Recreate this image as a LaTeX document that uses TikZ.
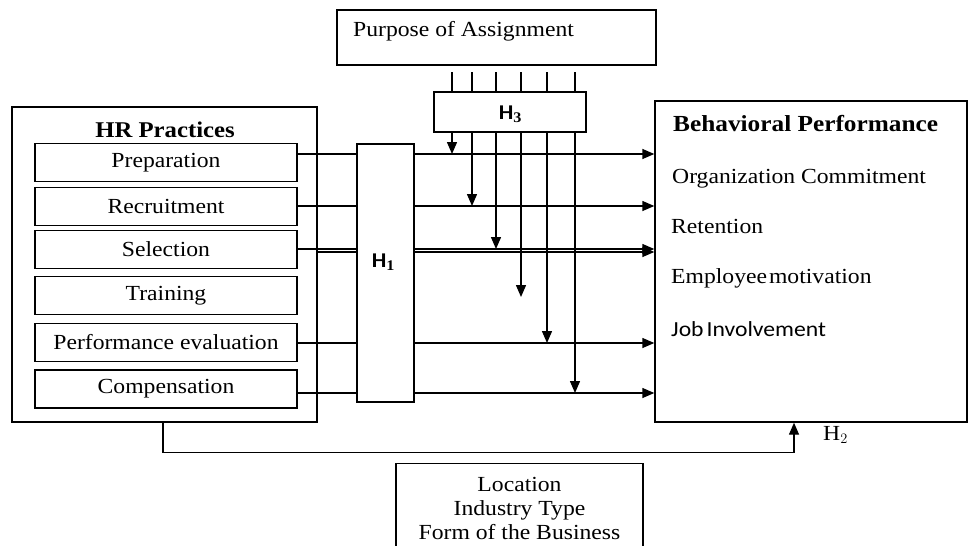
\documentclass[tikz,border=0pt]{standalone}
\usepackage{fontspec}
\setmainfont{Liberation Serif}[FakeStretch=1.1]
\newfontfamily\calibri{Carlito}[FakeStretch=1.1]
\usetikzlibrary{arrows.meta,positioning,calc}

\tikzset{
  box/.style={draw, line width=1.4pt, inner sep=0pt},
  practice/.style={box, minimum width=262pt, minimum height=38pt},
  link/.style={line width=1.4pt},
  arr/.style={-{Triangle[length=12pt,width=10pt]}},
  txt/.style={inner sep=0pt, anchor=base west},
}

\begin{document}
\begin{tikzpicture}[x=1pt, y=-1pt, font=\fontsize{21.5}{24}\selectfont]
  \useasboundingbox (0,0) rectangle (969,546);
  \clip (0,0) rectangle (969,546);

  % top box and moderator
  \node[box, minimum width=319pt, minimum height=55pt] (purpose) at (496.5,37.5) {};
  \node[txt] (purposetxt) at (353,36) {Purpose of Assignment};
  \node[box, minimum width=152pt, minimum height=40pt] (h3) at (510,112) {};
  \node[inner sep=0pt] (h3lab) at (510,114) {\calibri\fontsize{21}{24}\selectfont\bfseries H$_{\mathbf 3}$};

  % HR practices
  \node[box, minimum width=305pt, minimum height=315pt] (hr) at (164.5,264.5) {};
  \node[inner sep=0pt, anchor=base] (hrtitle) at (165,137) {\fontsize{22.5}{26}\selectfont\bfseries HR Practices};
  \node[practice] (prep) at (166,162.5) {Preparation};
  \node[practice] (recr) at (166,206.5) {Recruitment};
  \node[practice] (sel)  at (166,249.5) {Selection};
  \node[practice] (trai) at (166,295.5) {Training};
  \node[practice] (perf) at (166,342.5) {Performance evaluation};
  \node[practice] (comp) at (166,389)   {Compensation};

  % mediator
  \node[box, minimum width=57pt, minimum height=258pt] (h1) at (385.5,273) {};
  \node[inner sep=0pt] (h1lab) at (383,262) {\calibri\fontsize{21}{24}\selectfont\bfseries H$_{\mathbf 1}$};

  % behavioral performance
  \node[box, minimum width=312pt, minimum height=321pt] (beh) at (811,261.5) {};
  \node[txt] (behtitle) at (673,131) {\fontsize{23}{26}\selectfont\bfseries Behavioral Performance};
  \node[txt] (orgc) at (672,183) {Organization Commitment};
  \node[txt] (rete) at (671,233) {Retention};
  \node[txt] (motv) at (671,283) {Employee\hspace{2pt}motivation};
  \node[txt] (jobi) at (671,336) {\calibri Job\hspace{3pt}Involvement};

  % control variables
  \node[box, minimum width=247pt, minimum height=90pt, align=center, anchor=north] (ctrl) at (519.5,463)
    {Location\\Industry Type\\Form of the Business};

  % rows
  \foreach \n/\y in {prep/154, recr/206, sel/249, perf/343, comp/393} {
    \draw[link] (\n.east |- 0,\y) -- (h1.west |- 0,\y);
    \draw[link,arr] (h1.east |- 0,\y) -- (beh.west |- 0,\y);
  }
  \draw[link] (hr.east |- 0,252) -- (h1.west |- 0,252);
  \draw[link,arr] (h1.east |- 0,252) -- (beh.west |- 0,252);

  % moderation by purpose
  \foreach \x/\y in {452/154, 472/206, 496/249, 521/297, 547/343, 575/393} {
    \draw[link] (\x,72) -- (h3.north -| \x,0);
    \draw[link,arr] (h3.south -| \x,0) -- (\x,\y);
  }

  % H2
  \draw[link,arr] (hr.south -| 163,0) -- ++(0,30) -| (beh.south -| 794,0);
  \node[txt] (h2lab) at (823,440) {H$_2$};
\end{tikzpicture}
\end{document}
